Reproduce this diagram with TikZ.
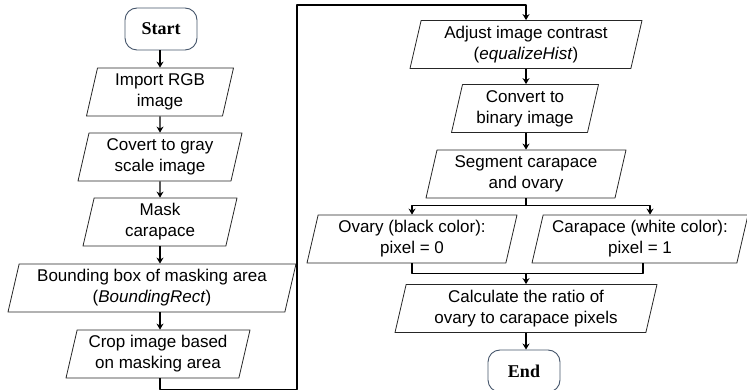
\documentclass[tikz,border=0pt]{standalone}
\usepackage{fontspec}
\setmainfont{Liberation Sans}
\newfontfamily\termfont{Liberation Serif}
\usetikzlibrary{shapes.geometric,arrows.meta}
\definecolor{termline}{RGB}{68,84,106}

\tikzset{
  io/.style={trapezium, trapezium left angle=74, trapezium right angle=106,
    trapezium stretches body, draw=black!85, line width=0.8pt,
    minimum height=48pt, inner sep=1pt, align=center,
    font=\fontsize{17}{21}\selectfont},
  term/.style={rectangle, rounded corners=12pt, draw=termline, line width=0.9pt,
    minimum width=72pt, minimum height=42pt,
    font=\termfont\bfseries\fontsize{18}{20}\selectfont},
  flow/.style={->, line width=1.2pt}
}

\begin{document}
\begin{tikzpicture}[x=1pt, y=-1pt, line join=round, >={Stealth[length=6pt,width=7pt]}]
  \useasboundingbox (0,0) rectangle (747,390);

  % left column
  \node[term] (start) at (161,29) {Start};
  \node[io, minimum width=147pt] (rgb) at (160,92) {Import RGB\\image};
  \node[io, minimum width=164pt] (gray) at (160,157) {Covert to gray\\scale image};
  \node[io, minimum width=154pt] (mask) at (160,222) {Mask\\carapace};
  \node[io, minimum width=288pt] (bbox) at (152,288) {Bounding box of masking area\\(\textit{BoundingRect})};
  \node[io, minimum width=184pt] (crop) at (158,354) {Crop image based\\on masking area};

  % right column
  \node[io, minimum width=232pt] (contrast) at (526,44.5) {Adjust image contrast\\(\textit{equalizeHist})};
  \node[io, minimum width=147pt] (binary) at (525,108.5) {Convert to\\binary image};
  \node[io, minimum width=200pt] (segm) at (526,174) {Segment carapace\\and ovary};
  \node[io, minimum width=210pt] (ovary) at (412,239) {Ovary (black color):\\pixel = 0};
  \node[io, minimum width=216pt] (carap) at (640,239) {Carapace (white color):\\pixel = 1};
  \node[io, minimum width=262pt] (ratio) at (526,308.5) {Calculate the ratio of\\ovary to carapace pixels};
  \node[term] (end) at (524,371) {End};

  \coordinate (turn) at (297,5);

  % connectors
  \draw[flow] (start.south -| rgb.north) -- (rgb.north);
  \draw[flow] (rgb.south) -- (gray.north);
  \draw[flow] (gray.south) -- (mask.north);
  \draw[flow] (mask.south) -- (mask.south |- bbox.north);
  \draw[flow] (mask.south |- bbox.south) -- (mask.south |- crop.north);
  \draw[flow] (mask.south |- crop.south) -- ++(0,11) -| (turn) -| (contrast.north);
  \draw[flow] (contrast.south) -- (contrast.south |- binary.north);
  \draw[flow] (contrast.south |- binary.south) -- (contrast.south |- segm.north);
  \draw[flow] (segm.south) -- ++(0,7) coordinate (split) -| (ovary.north);
  \draw[flow] (split) -| ([xshift=10pt]carap.north);
  \draw[line width=1.2pt] (ovary.south) -- ++(0,10) coordinate (join) -| ([xshift=3pt]carap.south);
  \draw[flow] (join -| ratio.north) -- (ratio.north);
  \draw[flow] (ratio.south) -- (ratio.south |- end.north);
\end{tikzpicture}
\end{document}
